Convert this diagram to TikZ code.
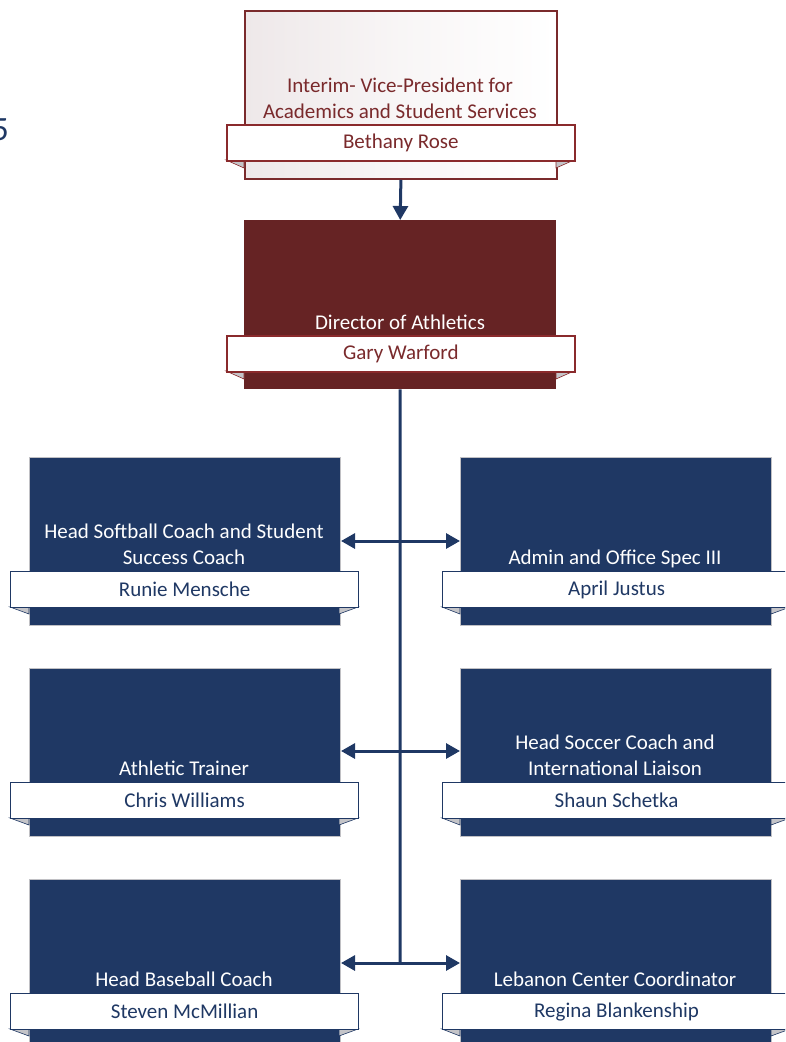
\documentclass[tikz,border=0pt]{standalone}
\usepackage{fontspec}
\setmainfont{Carlito}
\usetikzlibrary{arrows.meta,positioning}
\definecolor{navy}{HTML}{1F3864}
\definecolor{maroon}{HTML}{662324}
\definecolor{redtext}{HTML}{7A2A2C}
\definecolor{redline}{HTML}{8A2A2C}
\definecolor{topfill}{HTML}{EEE8E9}
\definecolor{foldgray}{HTML}{C4C4C8}
\definecolor{edgegray}{HTML}{C0C0C4}
\tikzset{
  x=1pt, y=-1pt,
  txt/.style={font=\fontsize{21}{26}\selectfont, align=center, inner sep=0pt},
  navybox/.style={rectangle, fill=navy, draw=edgegray, line width=1pt, minimum width=311pt, minimum height=168pt, anchor=north west, inner sep=0pt},
  plate/.style={rectangle, fill=white, draw=navy, line width=1.2pt, minimum width=348pt, minimum height=36pt, anchor=north west, inner sep=0pt, txt, text=navy},
  redplate/.style={plate, draw=redline, line width=1.6pt, text=redtext},
  wtitle/.style={txt, text=white, anchor=base},
  fold/.style={fill=foldgray, draw=navy, line width=0.6pt},
  link/.style={draw=navy, line width=3pt},
  tip/.style={-{Triangle[width=15pt,length=14pt]}},
}
\begin{document}
\begin{tikzpicture}
\useasboundingbox (0,0) rectangle (785,1042);
\clip (0,0) rectangle (785,1042);

% stray "5" at left edge
\node[font=\fontsize{34}{40}\selectfont, text=navy, anchor=base east, inner sep=0pt] (five) at (9,140) {5};

% ---- top box ----
\node[rectangle, left color=topfill, right color=white, middle color=white!60!topfill, draw=redtext, line width=1.8pt,
      minimum width=312pt, minimum height=168pt, anchor=north west] (vp) at (244,10) {};
\fill[fold, draw=redline] (226,160) -- (244,160) -- (244,168) -- cycle;
\fill[fold, draw=redline] (574,160) -- (556,160) -- (556,168) -- cycle;
\node[txt, text=redtext, anchor=base] (vpt) at (400,118) {Interim- Vice-President for\\Academics and Student Services};
\node[redplate] (vpn) at (226,124) {Bethany Rose};

% ---- director ----
\node[rectangle, fill=maroon, minimum width=312pt, minimum height=169pt, anchor=north west] (dir) at (244,220) {};
\fill[fold, draw=redline] (226,371) -- (244,371) -- (244,379) -- cycle;
\fill[fold, draw=redline] (574,371) -- (556,371) -- (556,379) -- cycle;
\node[wtitle] (dirt) at (400,329) {Director of Athletics};
\node[redplate] (dirn) at (226,335) {Gary Warford};

\draw[link, tip] (vp.south) -- (dir.north);

% ---- row 1 ----
\node[navybox] (l1) at (29,457) {};
\node[navybox] (r1) at (460,457) {};
\fill[fold] (10,607) -- (29,607) -- (29,614) -- cycle;
\fill[fold] (358,607) -- (339,607) -- (339,614) -- cycle;
\fill[fold] (442,607) -- (460,607) -- (460,614) -- cycle;
\fill[fold] (790,607) -- (771,607) -- (771,614) -- cycle;
\node[wtitle] (l1t) at (184,564) {Head Softball Coach and Student\\Success Coach};
\node[wtitle] (r1t) at (615,564) {Admin and Office Spec III};
\node[plate] (l1n) at (10,571) {Runie Mensche};
\node[plate] (r1n) at (442,571) {April Justus};

% ---- row 2 ----
\node[navybox] (l2) at (29,668) {};
\node[navybox] (r2) at (460,668) {};
\fill[fold] (10,818) -- (29,818) -- (29,825) -- cycle;
\fill[fold] (358,818) -- (339,818) -- (339,825) -- cycle;
\fill[fold] (442,818) -- (460,818) -- (460,825) -- cycle;
\fill[fold] (790,818) -- (771,818) -- (771,825) -- cycle;
\node[wtitle] (l2t) at (184,775) {Athletic Trainer};
\node[wtitle] (r2t) at (615,775) {Head Soccer Coach and\\International Liaison};
\node[plate] (l2n) at (10,782) {Chris Williams};
\node[plate] (r2n) at (442,782) {Shaun Schetka};

% ---- row 3 ----
\node[navybox] (l3) at (29,879) {};
\node[navybox] (r3) at (460,879) {};
\fill[fold] (10,1029) -- (29,1029) -- (29,1036) -- cycle;
\fill[fold] (358,1029) -- (339,1029) -- (339,1036) -- cycle;
\fill[fold] (442,1029) -- (460,1029) -- (460,1036) -- cycle;
\fill[fold] (790,1029) -- (771,1029) -- (771,1036) -- cycle;
\node[wtitle] (l3t) at (184,986) {Head Baseball Coach};
\node[wtitle] (r3t) at (615,986) {Lebanon Center Coordinator};
\node[plate] (l3n) at (10,993) {Steven McMillian};
\node[plate] (r3n) at (442,993) {Regina Blankenship};

% ---- connectors ----
\coordinate (s1) at (400,541);
\coordinate (s2) at (400,751);
\coordinate (s3) at (400,963);
\draw[link] (dir.south) -- (s3);
\draw[link, tip] (s1) -- (l1.east |- s1);
\draw[link, tip] (s1) -- (r1.west |- s1);
\draw[link, tip] (s2) -- (l2.east |- s2);
\draw[link, tip] (s2) -- (r2.west |- s2);
\draw[link, tip] (s3) -- (l3.east |- s3);
\draw[link, tip] (s3) -- (r3.west |- s3);
\end{tikzpicture}
\end{document}
